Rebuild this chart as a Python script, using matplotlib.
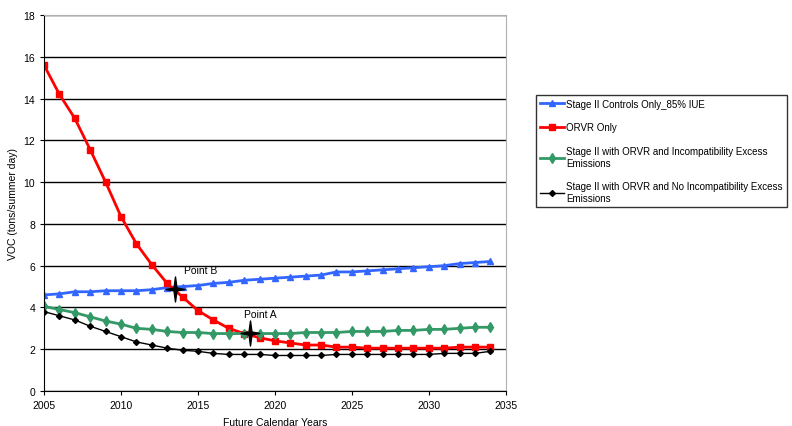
import matplotlib
matplotlib.use("Agg")
import matplotlib.pyplot as plt
from matplotlib.path import Path
import numpy as np

plt.rcParams['font.family'] = ['Liberation Sans', 'DejaVu Sans']

years = list(range(2005, 2035))

stage2_only = [4.6, 4.65, 4.75, 4.75, 4.8, 4.8, 4.8, 4.85, 4.95, 5.0,
               5.05, 5.15, 5.2, 5.3, 5.35, 5.4, 5.45, 5.5, 5.55, 5.7,
               5.7, 5.75, 5.8, 5.85, 5.9, 5.95, 6.0, 6.1, 6.15, 6.2]
orvr_only = [15.6, 14.2, 13.05, 11.55, 10.0, 8.35, 7.05, 6.05, 5.15, 4.5,
             3.85, 3.4, 3.0, 2.75, 2.55, 2.4, 2.3, 2.2, 2.2, 2.1,
             2.1, 2.05, 2.05, 2.05, 2.05, 2.05, 2.05, 2.1, 2.1, 2.1]
stage2_orvr_incompat = [4.05, 3.9, 3.75, 3.55, 3.35, 3.2, 3.0, 2.95, 2.85, 2.8,
                        2.8, 2.75, 2.75, 2.75, 2.75, 2.75, 2.75, 2.8, 2.8, 2.8,
                        2.85, 2.85, 2.85, 2.9, 2.9, 2.95, 2.95, 3.0, 3.05, 3.05]
stage2_orvr_no_incompat = [3.8, 3.6, 3.4, 3.1, 2.85, 2.6, 2.35, 2.2, 2.05, 1.95,
                           1.9, 1.8, 1.75, 1.75, 1.75, 1.7, 1.7, 1.7, 1.7, 1.75,
                           1.75, 1.75, 1.75, 1.75, 1.75, 1.75, 1.8, 1.8, 1.8, 1.9]

# crossover points
point_labels = ["Point B", "Point A"]
point_x = [2013.5, 2018.4]
point_y = [4.9, 2.8]

# thin four-armed star for the crossover marks
w = 0.12
star = Path([(0, 1), (w, w), (0.75, 0), (w, -w), (0, -1),
             (-w, -w), (-0.75, 0), (-w, w), (0, 1)],
            [Path.MOVETO] + [Path.LINETO] * 7 + [Path.CLOSEPOLY])

fig = plt.figure(figsize=(7.92, 4.27), dpi=100)
ax = fig.add_axes([0.0556, 0.082, 0.583, 0.8805])

ax.plot(years, stage2_only, color='#3366ff', lw=2, marker='^', ms=5,
        label='Stage II Controls Only_85% IUE')
ax.plot(years, orvr_only, color='#ff0000', lw=2, marker='s', ms=5,
        label='ORVR Only')
ax.plot(years, stage2_orvr_incompat, color='#339966', lw=2, marker='d', ms=5,
        label='Stage II with ORVR and Incompatibility Excess\nEmissions')
ax.plot(years, stage2_orvr_no_incompat, color='black', lw=1, marker='D', ms=3,
        label='Stage II with ORVR and No Incompatibility Excess\nEmissions')

ax.plot(point_x, point_y, ls='none', marker=star, ms=18, color='black', zorder=5)
ax.text(point_x[0] + 0.6, point_y[0] + 0.75, point_labels[0], fontsize=7.5)
ax.text(point_x[1] - 0.4, point_y[1] + 0.75, point_labels[1], fontsize=7.5)

ax.set_xlim(2005, 2035)
ax.set_ylim(0, 18)
ax.set_xticks(range(2005, 2036, 5))
ax.set_yticks(range(0, 19, 2))
ax.tick_params(labelsize=7.5, length=3, width=0.8)
ax.yaxis.grid(True, color='black', lw=1)
ax.set_axisbelow(True)
for side in ['top', 'right']:
    ax.spines[side].set_color('#b0b0b0')
ax.set_xlabel('Future Calendar Years', fontsize=7.5, labelpad=5)
ax.set_ylabel('VOC (tons/summer day)', fontsize=7.5)

leg = fig.legend(loc='upper left', bbox_to_anchor=(536 / 792, 1 - 96 / 427),
                 fontsize=7, frameon=True, fancybox=False, edgecolor='black',
                 labelspacing=1.4, handlelength=2.5, handletextpad=0.2,
                 borderaxespad=0, borderpad=0.4)
leg.get_frame().set_linewidth(1)

fig.savefig('out.png', dpi=100)
